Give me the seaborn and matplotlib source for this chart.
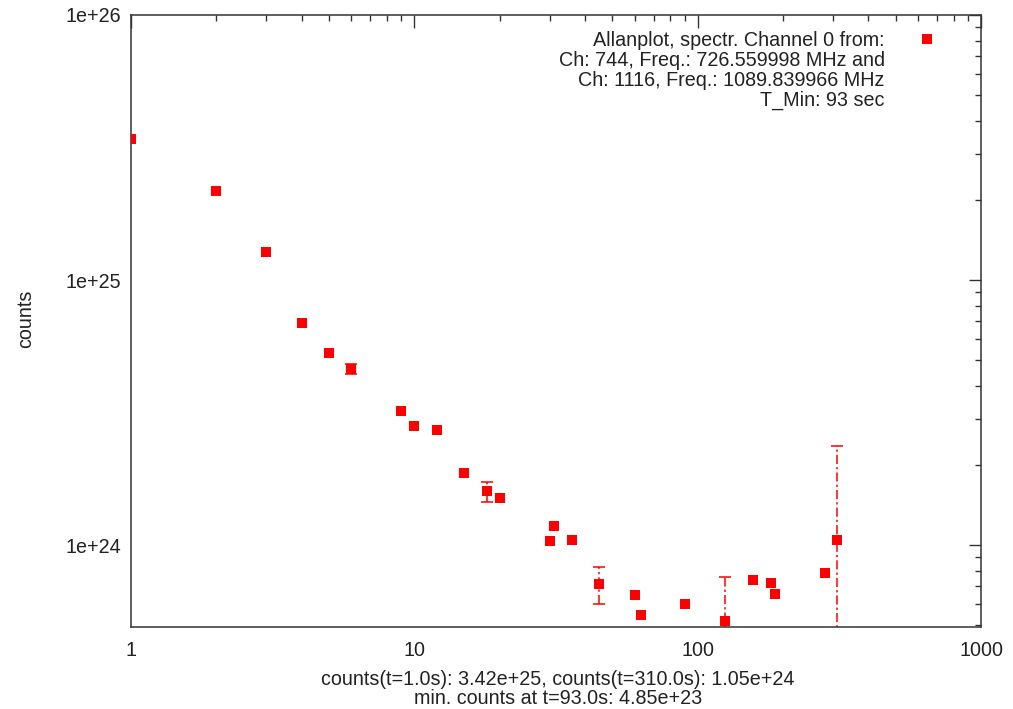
import matplotlib
matplotlib.use("Agg")
import matplotlib.pyplot as plt
import matplotlib.ticker as mticker
import seaborn as sns
import numpy as np

# ---- data ----
tau = [1, 2, 3, 4, 5, 6, 9, 10, 12, 15, 18, 20, 30, 31, 36, 45, 60, 63, 90,
       125, 157, 181, 188, 282, 310]
counts = [3.42e25, 2.17e25, 1.28e25, 6.92e24, 5.32e24, 4.63e24, 3.20e24,
          2.81e24, 2.72e24, 1.87e24, 1.60e24, 1.51e24, 1.04e24, 1.18e24,
          1.05e24, 7.14e23, 6.51e23, 5.45e23, 6.00e23, 5.20e23, 7.38e23,
          7.23e23, 6.55e23, 7.86e23, 1.05e24]
errors = [0, 0, 0, 0, 0, 0.2e24, 0, 0, 0, 0, 0.14e24, 0, 0, 0, 0, 1.13e23,
          0, 0, 0, 2.4e23, 0, 0, 0, 0, 1.31e24]

legend_label = ("Allanplot, spectr. Channel 0 from:\n"
                "Ch: 744, Freq.: 726.559998 MHz and\n"
                "Ch: 1116, Freq.: 1089.839966 MHz\n"
                "T_Min: 93 sec")
xlabel = ("counts(t=1.0s): 3.42e+25, counts(t=310.0s): 1.05e+24\n"
          "min. counts at t=93.0s: 4.85e+23")
ylabel = "counts"
x_ticks = [1, 10, 100, 1000]
x_ticklabels = ["1", "10", "100", "1000"]
y_ticks = [1e24, 1e25, 1e26]
y_ticklabels = ["1e+24", "1e+25", "1e+26"]

# ---- style ----
sns.set_style("white")
plt.rcParams["font.family"] = ["Liberation Sans", "DejaVu Sans"]
FS = 14.2
plt.rcParams["font.size"] = FS
txt_col = "#222222"

fig = plt.figure(figsize=(10.13, 7.09), dpi=100)
ax = fig.add_axes([131 / 1013, 1 - 627 / 709, (981 - 131) / 1013, (627 - 15) / 709])

red = "#ff0000"
for t, c, e in zip(tau, counts, errors):
    if e > 0:
        _, caps, bars = ax.errorbar([t], [c], yerr=[e], fmt="none", ecolor=red,
                                    elinewidth=1.1, capsize=4.5, capthick=1.1,
                                    zorder=2)
        for b in bars:
            b.set_linestyle((0, (6, 2, 1.5, 2)))

sns.scatterplot(x=tau, y=counts, marker="s", color=red, s=44, linewidth=0,
                ax=ax, label=legend_label, zorder=3)

ax.set_xscale("log")
ax.set_yscale("log")
ax.set_xlim(1, 1000)
ax.set_ylim(4.92e23, 1e26)

ax.xaxis.set_major_locator(mticker.FixedLocator(x_ticks))
ax.xaxis.set_major_formatter(mticker.FixedFormatter(x_ticklabels))
ax.yaxis.set_major_locator(mticker.FixedLocator(y_ticks))
ax.yaxis.set_major_formatter(mticker.FixedFormatter(y_ticklabels))
ax.xaxis.set_minor_locator(mticker.LogLocator(base=10, subs=np.arange(2, 10)))
ax.yaxis.set_minor_locator(mticker.LogLocator(base=10, subs=np.arange(2, 10)))
ax.xaxis.set_minor_formatter(mticker.NullFormatter())
ax.yaxis.set_minor_formatter(mticker.NullFormatter())

axis_col = "#333333"
ax.tick_params(which="both", direction="in", top=True, right=True,
               color=axis_col, labelcolor=txt_col, labelsize=FS, width=1.0)
ax.tick_params(which="major", length=9, pad=7)
ax.tick_params(axis="x", which="major", pad=10)
ax.tick_params(which="minor", length=4.5)
for s in ax.spines.values():
    s.set_visible(True)
    s.set_color(axis_col)
    s.set_linewidth(1.1)

ax.set_xlabel(xlabel, fontsize=FS, color=txt_col, linespacing=1.0)
ax.xaxis.set_label_coords((558 - 131) / 850, -(689 - 627) / 612)
ax.xaxis.label.set_va("center")
ax.set_ylabel(ylabel, fontsize=FS, color=txt_col, rotation=90)
ax.yaxis.set_label_coords(-(131 - 26) / 850, (627 - 319) / 612)
ax.yaxis.label.set_va("center")

leg = ax.legend(loc="upper right", bbox_to_anchor=(0.99, 1.0),
                markerfirst=False, frameon=False, fontsize=FS,
                handlelength=3.0, handletextpad=0.65, labelspacing=0.3,
                borderpad=0.3)
for txt in leg.get_texts():
    txt.set_multialignment("right")
    txt.set_linespacing(1.07)
    txt.set_color(txt_col)
try:
    for col in leg._legend_handle_box.get_children():
        for item in col.get_children():
            item.align = "top"
except Exception:
    pass

fig.savefig("out.png", dpi=100)
